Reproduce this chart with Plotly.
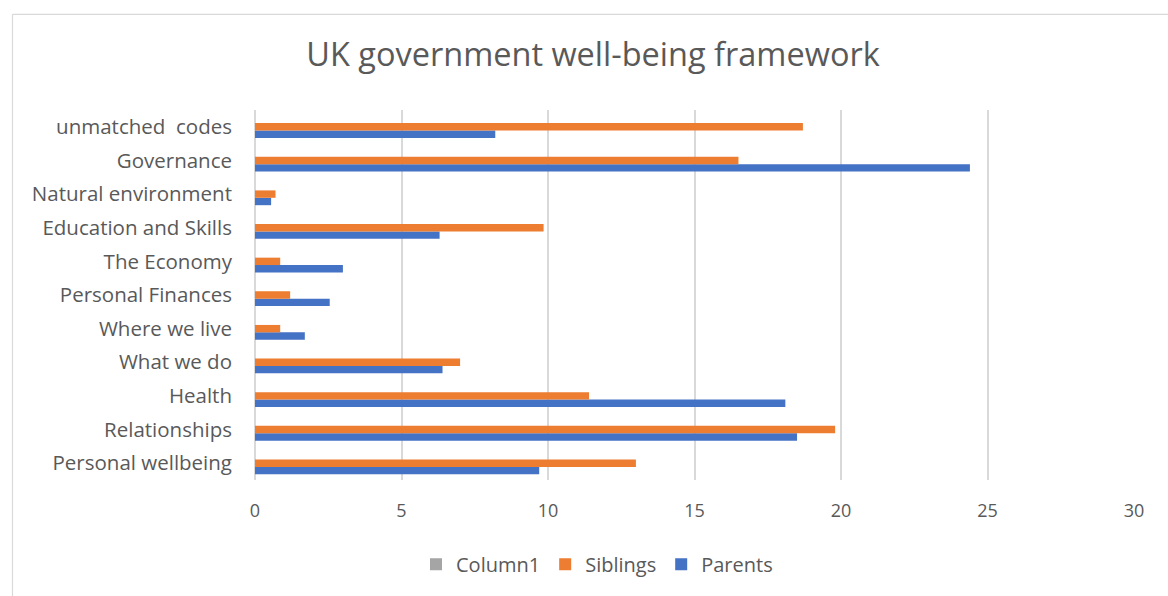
import plotly.graph_objects as go

categories = ["Personal wellbeing", "Relationships", "Health", "What we do", "Where we live",
              "Personal Finances", "The Economy", "Education and Skills", "Natural environment",
              "Governance", "unmatched  codes"]
parents = [9.7, 18.5, 18.1, 6.4, 1.7, 2.55, 3.0, 6.3, 0.55, 24.4, 8.2]
siblings = [13.0, 19.8, 11.4, 7.0, 0.86, 1.2, 0.86, 9.85, 0.7, 16.5, 18.7]
column1 = [None] * len(categories)
x_ticks = [0, 5, 10, 15, 20, 25, 30]

FONT = "Open Sans"
TXT = "#595959"

fig = go.Figure()
fig.add_trace(go.Bar(y=categories, x=parents, name="Parents", orientation="h",
                     marker=dict(color="#4472C4", line=dict(width=0))))
fig.add_trace(go.Bar(y=categories, x=siblings, name="Siblings", orientation="h",
                     marker=dict(color="#ED7D31", line=dict(width=0))))
fig.add_trace(go.Bar(y=categories, x=column1, name="Column1", orientation="h",
                     marker=dict(color="#A5A5A5", line=dict(width=0))))

L, R, T, B = 255, 1134, 110, 483
W, H = 1168, 596
pw, ph = R - L, B - T

def px(x):
    return (x - L) / pw

def py(y):
    return (B - y) / ph

fig.update_layout(
    width=W, height=H,
    margin=dict(l=L, r=W - R, t=T, b=H - B, pad=0),
    paper_bgcolor="white", plot_bgcolor="white",
    barmode="group", bargap=0.34, bargroupgap=0,
    font=dict(family=FONT, color=TXT),
    title=dict(text="UK government well-being framework", x=593 / W, xanchor="center",
               y=1 - 55 / H, yanchor="middle", font=dict(size=32.5, color=TXT, family=FONT)),
    xaxis=dict(range=[0, 30], tickvals=x_ticks, showgrid=True, gridcolor="#D9D9D9", gridwidth=1.5,
               zeroline=True, zerolinecolor="#D9D9D9", zerolinewidth=1.5,
               showline=False, ticks="", tickfont=dict(size=18, color=TXT),
               ticklabelstandoff=18, fixedrange=True),
    yaxis=dict(showgrid=False, showline=False, ticks="", tickfont=dict(size=20.5, color=TXT),
               ticklabelstandoff=22, fixedrange=True),
    legend=dict(orientation="h", x=px(597), xanchor="center", y=py(568), yanchor="middle",
                traceorder="reversed", font=dict(size=20, color=TXT), itemwidth=30),
    showlegend=True,
    shapes=[
        dict(type="line", xref="paper", yref="paper", x0=px(12.5), x1=px(12.5), y0=py(13.5), y1=py(700),
             line=dict(color="#D9D9D9", width=1.2)),
        dict(type="line", xref="paper", yref="paper", x0=px(12.5), x1=px(1300), y0=py(13.5), y1=py(13.5),
             line=dict(color="#D9D9D9", width=1.2)),
    ],
)

fig.write_html("out.html")
